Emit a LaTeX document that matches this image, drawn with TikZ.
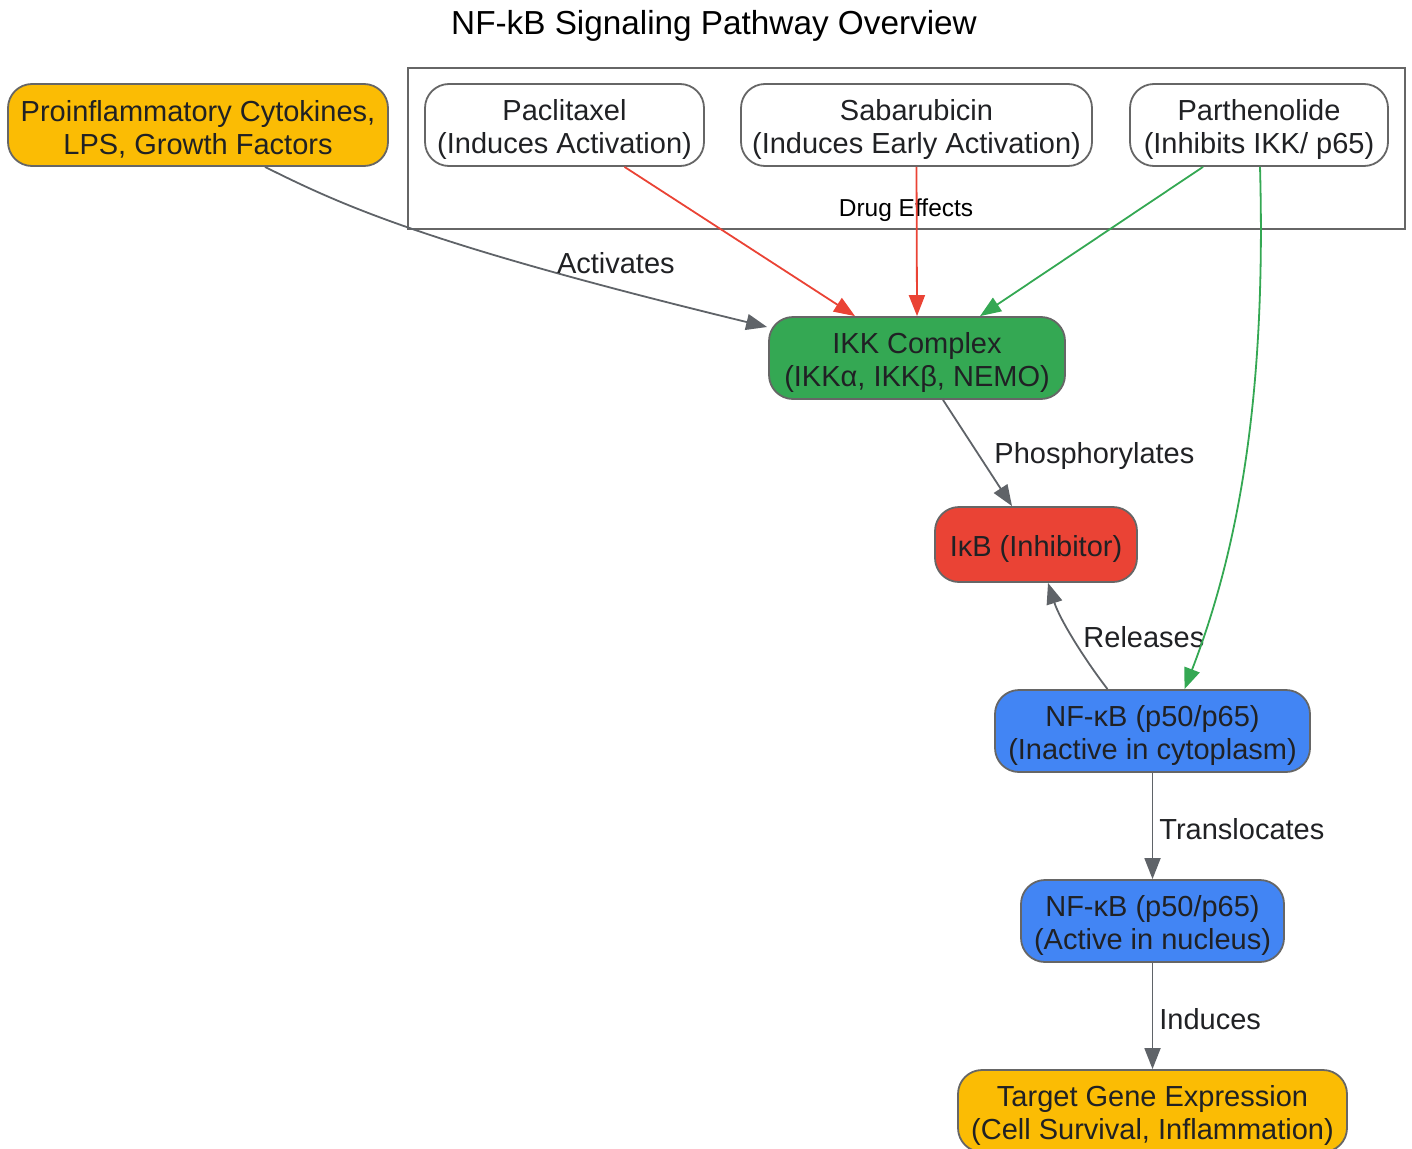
\documentclass[tikz,border=0pt]{standalone}
\usepackage{fontspec}
\setmainfont{Liberation Sans}
\usetikzlibrary{arrows.meta}

\definecolor{gyellow}{HTML}{FBBC04}
\definecolor{ggreen}{HTML}{34A853}
\definecolor{gred}{HTML}{EA4335}
\definecolor{gblue}{HTML}{4285F4}
\definecolor{ggray}{HTML}{5F6368}
\definecolor{gtext}{HTML}{202124}
\definecolor{gborder}{HTML}{666666}

\newcommand{\topstrut}{\rule{0pt}{30pt}}

\begin{document}
\begin{tikzpicture}[x=1pt, y=-1pt,
    every node/.style={font=\fontsize{29}{33}\selectfont, text=gtext},
    box/.style={rectangle, rounded corners=24pt, draw=gborder, line width=1.8pt,
                align=center, minimum height=82pt, inner sep=0pt},
    link/.style={line width=1.8pt, draw=ggray, -{Triangle[length=21pt,width=16pt]}},
    lbl/.style={inner sep=2pt}]
  \useasboundingbox (0,0) rectangle (1412,1148);

  % 1. Titulo e caixa dos farmacos
  \node[font=\fontsize{33.3}{38}\selectfont, text=black] (title) at (714,26) {NF-kB Signaling Pathway Overview};
  \node[draw=gborder, line width=1.8pt, minimum width=997pt, minimum height=161pt] (drugs) at (906.5,148.5) {};
  \node[font=\fontsize{24.5}{28}\selectfont, text=black] (drugslbl) at (906,210) {Drug Effects};

  % 2. Nos da via
  \node[box, fill=gyellow, minimum width=380pt] (pro) at (198,125) {\topstrut Proinflammatory Cytokines,\\LPS, Growth Factors};
  \node[box, fill=white, minimum width=279pt] (pac) at (564.5,125) {\topstrut Paclitaxel\\(Induces Activation)};
  \node[box, fill=white, minimum width=351pt] (sab) at (916.5,125) {\topstrut Sabarubicin\\(Induces Early Activation)};
  \node[box, fill=white, minimum width=258pt] (par) at (1259,125) {\topstrut Parthenolide\\(Inhibits IKK/ p65)};
  \node[box, fill=ggreen, minimum width=296pt] (ikk) at (917,358) {\topstrut IKK Complex\\(IKKα, IKKβ, NEMO)};
  \node[box, fill=gred, minimum width=202pt, minimum height=75pt] (ikb) at (1036,544.5) {\topstrut IκB (Inhibitor)};
  \node[box, fill=gblue, minimum width=315pt] (nfi) at (1152.5,731) {\topstrut NF-κB (p50/p65)\\(Inactive in cytoplasm)};
  \node[box, fill=gblue, minimum width=263pt] (nfa) at (1152.5,921) {\topstrut NF-κB (p50/p65)\\(Active in nucleus)};
  \node[box, fill=gyellow, minimum width=389pt] (tgt) at (1152.5,1111) {\topstrut Target Gene Expression\\(Cell Survival, Inflammation)};

  % 3. Arestas com rotulo
  \draw[link] ([xshift=67pt]pro.south) .. controls (345,207) and (430,245) .. ([xshift=-1pt,yshift=31pt]ikk.west)
    node[lbl, pos=0.83, above=12pt] {Activates};
  \draw[link] ([xshift=26pt]ikk.south) -- ([xshift=-24pt]ikb.north)
    node[lbl, pos=0.53, right=12pt] {Phosphorylates};
  \draw[link] ([xshift=-45pt]nfi.north) .. controls (1085,660) and (1060,620) .. ([xshift=12pt]ikb.south)
    node[lbl, pos=0.52, right=8pt] {Releases};
  \draw[link] (nfi.south) -- (nfa.north) node[lbl, pos=0.53, right=4pt] {Translocates};
  \draw[link] (nfa.south) -- (tgt.north) node[lbl, pos=0.53, right=4pt] {Induces};

  % 4. Efeitos dos farmacos
  \draw[link, draw=gred] ([xshift=60pt]pac.south) -- ([xshift=-62pt]ikk.north);
  \draw[link, draw=gred] (sab.south) -- (ikk.north);
  \draw[link, draw=ggreen] ([xshift=-56pt]par.south) -- ([xshift=63pt]ikk.north);
  \draw[link, draw=ggreen] ([xshift=1pt]par.south) .. controls (1265,350) and (1250,520) .. ([xshift=32pt]nfi.north);
\end{tikzpicture}
\end{document}
